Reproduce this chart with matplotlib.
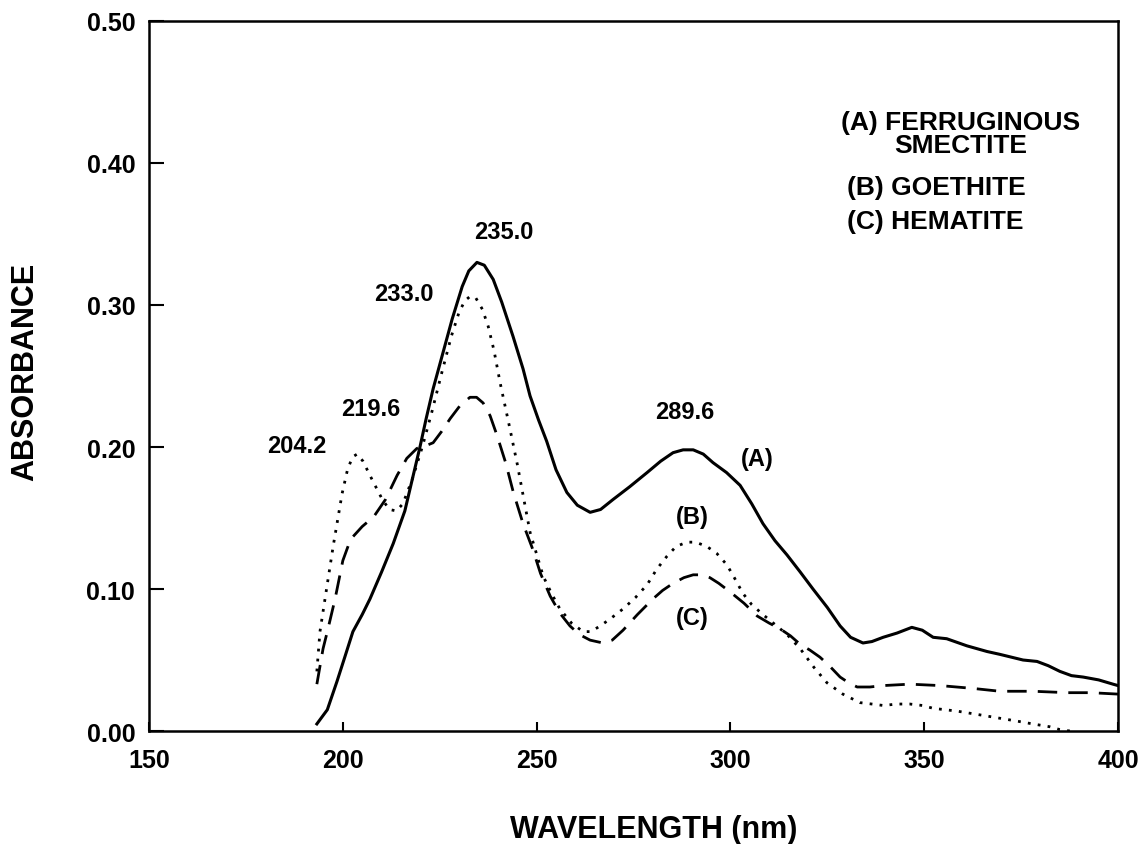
import matplotlib
matplotlib.use('Agg')
import matplotlib.pyplot as plt

plt.rcParams['font.family'] = ['Liberation Sans', 'DejaVu Sans']
plt.rcParams['font.weight'] = 'bold'

####################################################
# (A) ferruginous smectite - solid
wl_a = [193.3, 196, 198.5, 200.5, 202.6, 205, 207, 210, 213, 216, 217.9, 219.9,
        221.5, 223.3, 226, 228.2, 230.8, 232.5, 234.6, 236.5, 238.8, 241,
        243.9, 246.5, 248.3, 250.5, 252.6, 255, 257.8, 260.5, 263.8, 266.5,
        269.7, 274, 278.5, 282, 285.2, 287.8, 290.4, 293, 295.5, 299, 302.5,
        305.5, 308.4, 311.5, 314.6, 318, 321.3, 325, 328.3, 331, 334.2, 336.5,
        339.4, 343, 346.8, 349.5, 352.3, 355.8, 361, 366.2, 369.5, 372.5,
        375.5, 379.1, 382, 385.0, 388, 391.0, 395, 398.7, 400]
abs_a = [0.005, 0.015, 0.035, 0.052, 0.07, 0.082, 0.093, 0.112, 0.132, 0.155, 0.177, 0.2,
         0.22, 0.241, 0.268, 0.29, 0.313, 0.324, 0.330, 0.328, 0.318, 0.302,
         0.278, 0.255, 0.236, 0.219, 0.204, 0.184, 0.168, 0.159, 0.154, 0.156,
         0.163, 0.172, 0.182, 0.19, 0.196, 0.198, 0.198, 0.195, 0.189, 0.182, 0.173,
         0.16, 0.146, 0.134, 0.124, 0.112, 0.1, 0.087, 0.074, 0.066, 0.062, 0.063,
         0.066, 0.069, 0.073, 0.071, 0.066, 0.065, 0.06, 0.056, 0.054, 0.052,
         0.05, 0.049, 0.046, 0.042, 0.039, 0.038, 0.036, 0.033, 0.032]

# (B) goethite - dotted
wl_b = [193.3, 194.1, 195.4, 197.5, 199.8, 201.2, 202.5, 203.7, 205.2, 207, 208.5,
        210.2, 212, 213.8, 215.5, 218, 220.5, 223, 225.5, 228, 230, 231.5,
        232.8, 234.3, 236, 237.5, 239, 240.6, 243.1, 245, 248.3, 251.7, 254,
        256, 259, 262, 264, 266.4, 269, 272.3, 275.5, 278.5, 281, 283.6,
        286, 288.8, 291, 293.9, 296.5, 299.1, 301, 303.2, 305.5, 308.4, 311.5,
        314.6, 318, 321.5, 324.9, 329, 333.4, 336.5, 339.4, 343, 346.3, 349.5,
        352.3, 358.5, 365.2, 369.5, 373.9, 378, 382.4, 385, 387.6]
abs_b = [0.042, 0.07, 0.093, 0.13, 0.167, 0.184, 0.193, 0.195, 0.19, 0.18, 0.172,
         0.163, 0.156, 0.155, 0.16, 0.178, 0.2, 0.225, 0.252, 0.278, 0.295, 0.303,
         0.306, 0.305, 0.297, 0.285, 0.268, 0.245, 0.213, 0.188, 0.14, 0.109, 0.096,
         0.086, 0.076, 0.07, 0.07, 0.074, 0.079, 0.086, 0.094, 0.103, 0.114, 0.123,
         0.13, 0.133, 0.133, 0.13, 0.125, 0.117, 0.108, 0.097, 0.089, 0.082, 0.075,
         0.068, 0.058, 0.045, 0.034, 0.026, 0.02, 0.019, 0.018, 0.019, 0.019, 0.018,
         0.016, 0.014, 0.011, 0.009, 0.007, 0.005, 0.003, 0.001, 0.0]

# (C) hematite - dashed
wl_c = [193.3, 194.9, 196, 198, 200, 202, 205, 208, 211, 214, 216.5, 219.1,
        221.5, 223.3, 225.5, 227.7, 230.2, 232.8, 234.5, 236.2, 238, 239.8,
        242, 244, 246.5, 249, 251, 253.5, 256, 258.6, 261, 263.8, 267.1, 269.5,
        272.3, 276, 280, 282.5, 285.2, 288, 290.4, 292.5, 294.7, 297, 299.9,
        303.5, 306.9, 310, 312.8, 315.5, 318, 320.5, 323.1, 325.5, 328.3, 330.5,
        332.7, 336, 339.4, 346.3, 354.1, 362.6, 369.5, 378.1, 386.9, 393, 400]
abs_c = [0.033, 0.058, 0.07, 0.093, 0.12, 0.135, 0.144, 0.151, 0.163, 0.18, 0.192, 0.199,
         0.201, 0.203, 0.211, 0.22, 0.229, 0.235, 0.235, 0.231, 0.222, 0.208,
         0.189, 0.168, 0.146, 0.128, 0.111, 0.095, 0.083, 0.074, 0.068, 0.064, 0.062,
         0.064, 0.071, 0.082, 0.093, 0.099, 0.104, 0.108, 0.11, 0.11, 0.108, 0.104, 0.098,
         0.09, 0.081, 0.076, 0.072, 0.067, 0.061, 0.057, 0.052, 0.046, 0.038, 0.034,
         0.031, 0.031, 0.032, 0.033, 0.032, 0.030, 0.028, 0.028, 0.027, 0.027, 0.026]

peak_labels = ['235.0', '233.0', '219.6', '204.2', '289.6']
peak_pos = [(241.6, 0.352), (215.8, 0.308), (207.3, 0.227), (188.2, 0.201),
            (288.3, 0.225)]
curve_tags = ['(A)', '(B)', '(C)']
tag_pos = [(306.9, 0.192), (290.1, 0.151), (290.1, 0.080)]
legend_lines = ['(A) FERRUGINOUS', 'SMECTITE', '(B) GOETHITE', '(C) HEMATITE']

x_ticks = [150, 200, 250, 300, 350, 400]
y_ticks = [0.0, 0.1, 0.2, 0.3, 0.4, 0.5]


####################################################
fig = plt.figure(figsize=(11.42, 8.45), dpi=100)
ax = fig.add_axes([0.1305, 0.1337, 0.979 - 0.1305, 0.974 - 0.1337])

ax.plot(wl_a, abs_a, color='black', lw=2.2, ls='-')
ax.plot(wl_b, abs_b, color='black', lw=2.0, ls=(0, (1, 2.6)))
ax.plot(wl_c, abs_c, color='black', lw=2.0, ls=(0, (7, 4)))

ax.set_xlim(150, 400)
ax.set_ylim(0, 0.5)
ax.set_xticks(x_ticks)
ax.set_yticks(y_ticks)
ax.set_yticklabels([f'{v:.2f}' for v in y_ticks])
ax.tick_params(axis='y', direction='in', length=11, width=1.5, labelsize=18, pad=10)
ax.tick_params(axis='x', direction='in', length=6.5, width=1.5, labelsize=18, pad=12)
for lab in ax.get_xticklabels() + ax.get_yticklabels():
    lab.set_fontweight('bold')
for s in ax.spines.values():
    s.set_linewidth(1.8)

for txt, (px, py) in zip(peak_labels, peak_pos):
    ax.text(px, py, txt, fontsize=17, fontweight='bold', ha='center', va='center')
for txt, (px, py) in zip(curve_tags, tag_pos):
    ax.text(px, py, txt, fontsize=17, fontweight='bold', ha='center', va='center')

ax.text(328.5, 0.429, legend_lines[0], fontsize=19, fontweight='bold', va='center')
ax.text(359.5, 0.413, legend_lines[1], fontsize=19, fontweight='bold', va='center', ha='center')
ax.text(330.1, 0.383, legend_lines[2], fontsize=19, fontweight='bold', va='center')
ax.text(330.1, 0.359, legend_lines[3], fontsize=19, fontweight='bold', va='center')

fig.text(654 / 1142, 1 - 830 / 845, 'WAVELENGTH (nm)', fontsize=22, fontweight='bold',
         ha='center', va='center')
fig.text(25 / 1142, 1 - 372 / 845, 'ABSORBANCE', fontsize=22, fontweight='bold',
         ha='center', va='center', rotation=90)

fig.savefig('out.png', dpi=100)
